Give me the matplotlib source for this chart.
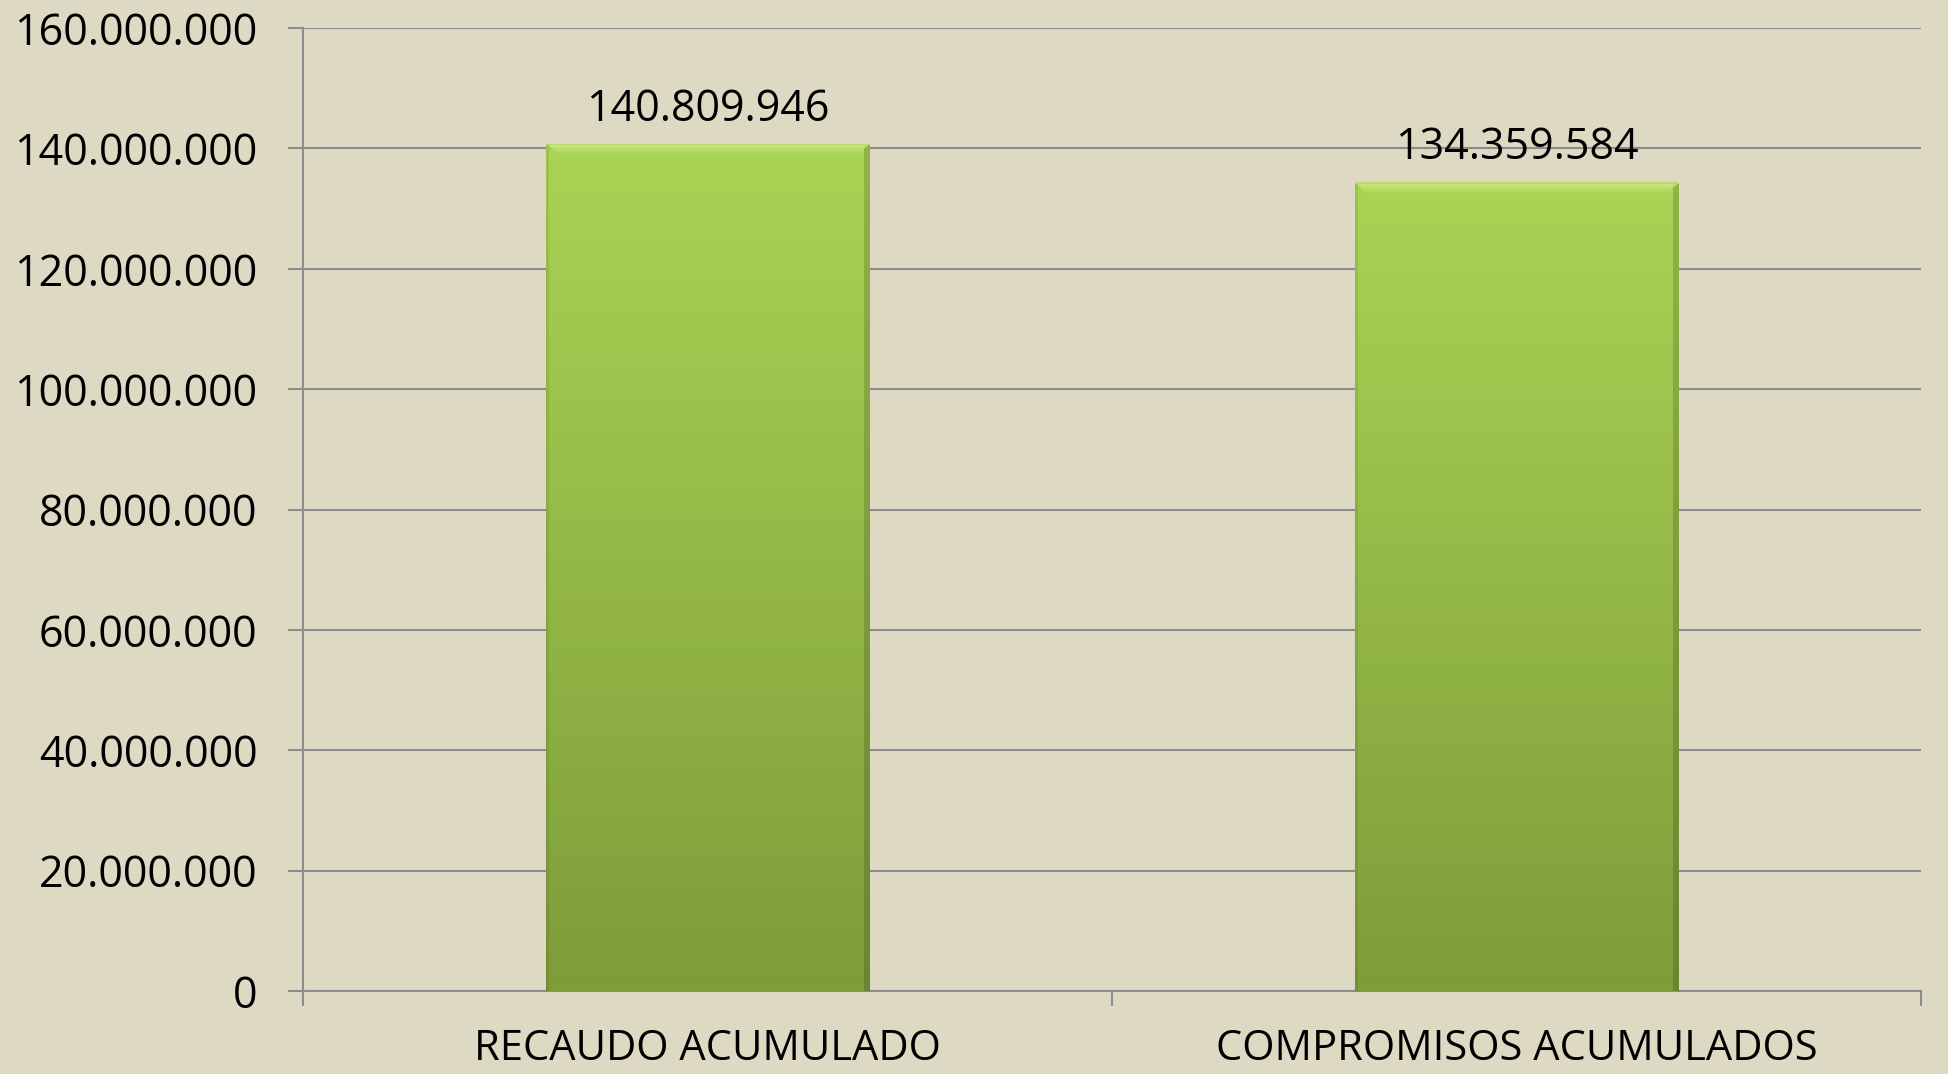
import matplotlib
matplotlib.use('Agg')
import matplotlib.pyplot as plt
import numpy as np
from matplotlib.colors import to_rgb
from matplotlib.ticker import FuncFormatter

# data
categories = ['RECAUDO ACUMULADO', 'COMPROMISOS ACUMULADOS']
values = [140809946, 134359584]
y_ticks = [0, 20000000, 40000000, 60000000, 80000000,
           100000000, 120000000, 140000000, 160000000]


# formats numbers with dots as thousands separators, e.g. 140.809.946
def dotted(v, pos=None):
    return f'{int(round(v)):,}'.replace(',', '.')


# builds an rgb image of a bar with a vertical green gradient and a bevelled top
def barImage(w, h):
    top = np.array(to_rgb('#AAD454'))
    bottom = np.array(to_rgb('#7E9C3A'))
    t = np.linspace(0, 1, h)[:, None, None]
    img = top * (1 - t) + bottom * t
    img = np.repeat(img, w, axis=1)
    rows, cols = np.mgrid[0:h, 0:w]
    # darker sides
    side = np.ones((h, w))
    side[:, -6:] = 0.85
    side[:, :3] = 0.92
    img = img * side[:, :, None]
    # bevel highlight along the top edge
    light = np.array(to_rgb('#D6EF8C'))
    bevel = (rows < 11) & (cols > rows) & (cols < w - rows)
    fade = np.clip(1 - rows / 11.0, 0, 1) * 0.8
    img[bevel] = img[bevel] * (1 - fade[bevel][:, None]) + light * fade[bevel][:, None]
    img[:2, :] = np.array(to_rgb('#B9DA6E'))
    return np.clip(img, 0, 1)


plt.rcParams['font.family'] = ['Open Sans', 'DejaVu Sans']
bg = '#DDD9C3'
grey = '#8C8C8C'

fig = plt.figure(figsize=(19.49, 10.74), dpi=100)
fig.patch.set_facecolor(bg)
ax = fig.add_axes([0.1555, 0.0773, 0.8301, 0.8966])
ax.set_facecolor(bg)

x = np.arange(len(categories))
ax.set_xlim(-0.5, 1.5)
ax.set_ylim(0, 160000000)
bars = ax.bar(x, values, width=0.4, color='#96BE48', zorder=2)

# paint gradient over each bar
for b in bars:
    x0, x1 = b.get_x(), b.get_x() + b.get_width()
    p0 = ax.transData.transform((x0, 0))
    p1 = ax.transData.transform((x1, b.get_height()))
    w = max(int(round(p1[0] - p0[0])), 2)
    h = max(int(round(p1[1] - p0[1])), 2)
    im = ax.imshow(barImage(w, h), extent=(x0, x1, 0, b.get_height()),
                   aspect='auto', zorder=3, interpolation='bilinear')
    im.set_clip_path(b)

for xi, v in zip(x, values):
    ax.annotate(dotted(v), (xi, v), xytext=(0, 16.5), textcoords='offset points',
                ha='center', va='baseline', fontsize=31, color='black', zorder=4)

ax.set_aspect('auto')
ax.set_xlim(-0.5, 1.5)
ax.set_ylim(0, 160000000)

ax.set_yticks(y_ticks)
ax.yaxis.set_major_formatter(FuncFormatter(dotted))
ax.yaxis.grid(True, color=grey, linewidth=1.5)
ax.set_axisbelow(True)

ax.set_xticks([-0.5, 0.5, 1.5])
ax.set_xticklabels(['', '', ''])
ax.set_xticks(x, minor=True)
ax.set_xticklabels(categories, minor=True)

ax.tick_params(axis='y', which='major', length=10.8, width=1.5, color=grey,
               labelsize=31, pad=22)
ax.tick_params(axis='x', which='major', length=10.8, width=1.5, color=grey)
ax.tick_params(axis='x', which='minor', length=0, labelsize=30, pad=27)

for s in ['top', 'right']:
    ax.spines[s].set_visible(False)
for s in ['left', 'bottom']:
    ax.spines[s].set_color(grey)
    ax.spines[s].set_linewidth(1.5)

fig.savefig('out.png', dpi=100, facecolor=bg)
